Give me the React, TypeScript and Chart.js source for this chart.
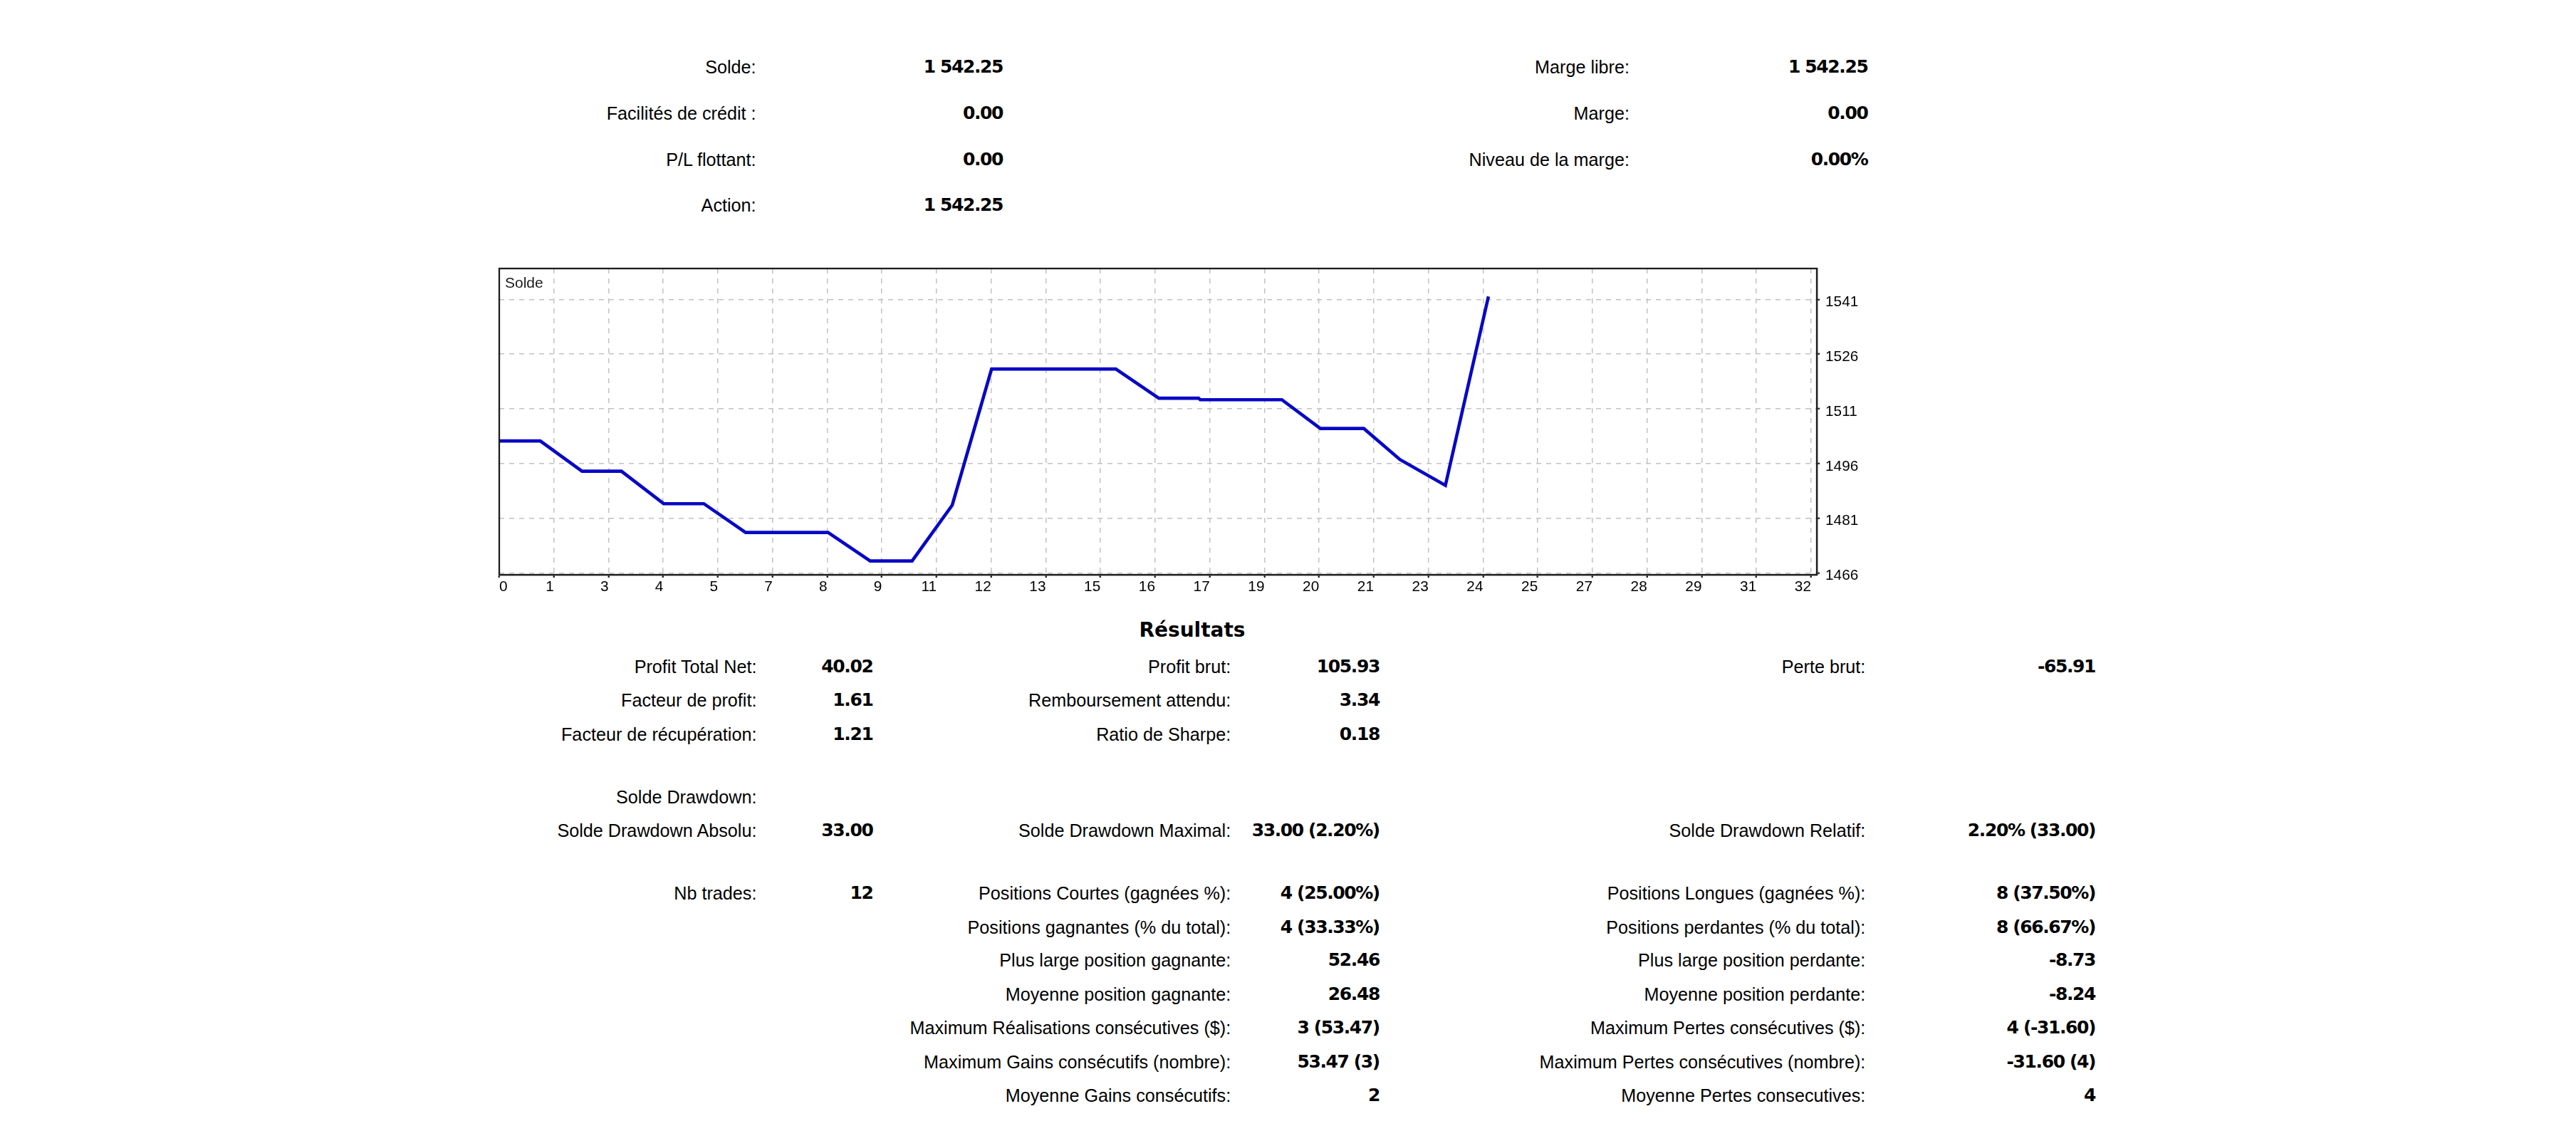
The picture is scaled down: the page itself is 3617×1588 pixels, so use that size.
import React, { useEffect, useRef } from "react";
import { Chart, registerables } from "chart.js";

Chart.register(...registerables);

// ---------- Chart data ----------
const balanceX = [0, 1.0, 2.02, 2.98, 4.01, 4.99, 6.01, 8.02, 9.05, 10.07, 11.05, 12.01, 15.04, 16.09, 17.06, 17.1, 19.09, 20.03, 21.09, 21.97, 23.08, 24.13];
const balanceY = [1502.2, 1502.2, 1493.9, 1493.9, 1485.0, 1485.0, 1477.1, 1477.1, 1469.3, 1469.3, 1484.6, 1521.9, 1521.9, 1513.9, 1513.9, 1513.5, 1513.5, 1505.6, 1505.6, 1497.1, 1490.0, 1541.8];
const xTickLabels = [0, 1, 3, 4, 5, 7, 8, 9, 11, 12, 13, 15, 16, 17, 19, 20, 21, 23, 24, 25, 27, 28, 29, 31, 32];
const yTickValues = [1466, 1481, 1496, 1511, 1526, 1541];
const chartLabel = "Solde";

// ---------- Account summary ----------
const accountLeftLabels = ["Solde:", "Facilités de crédit :", "P/L flottant:", "Action:"];
const accountLeftValues = ["1 542.25", "0.00", "0.00", "1 542.25"];
const accountRightLabels = ["Marge libre:", "Marge:", "Niveau de la marge:"];
const accountRightValues = ["1 542.25", "0.00", "0.00%"];

// ---------- Results ----------
const resultsTitle = "Résultats";
const col1Labels = ["Profit Total Net:", "Facteur de profit:", "Facteur de récupération:", "Solde Drawdown:", "Solde Drawdown Absolu:", "Nb trades:", "", "", "", "", "", ""];
const col1Values = ["40.02", "1.61", "1.21", "", "33.00", "12", "", "", "", "", "", ""];
const col2Labels = ["Profit brut:", "Remboursement attendu:", "Ratio de Sharpe:", "", "Solde Drawdown Maximal:", "Positions Courtes (gagnées %):", "Positions gagnantes (% du total):", "Plus large position gagnante:", "Moyenne position gagnante:", "Maximum Réalisations consécutives ($):", "Maximum Gains consécutifs (nombre):", "Moyenne Gains consécutifs:"];
const col2Values = ["105.93", "3.34", "0.18", "", "33.00 (2.20%)", "4 (25.00%)", "4 (33.33%)", "52.46", "26.48", "3 (53.47)", "53.47 (3)", "2"];
const col3Labels = ["Perte brut:", "", "", "", "Solde Drawdown Relatif:", "Positions Longues (gagnées %):", "Positions perdantes (% du total):", "Plus large position perdante:", "Moyenne position perdante:", "Maximum Pertes consécutives ($):", "Maximum Pertes consécutives (nombre):", "Moyenne Pertes consecutives:"];
const col3Values = ["-65.91", "", "", "", "2.20% (33.00)", "8 (37.50%)", "8 (66.67%)", "-8.73", "-8.24", "4 (-31.60)", "-31.60 (4)", "4"];

// ---------- Layout (positions only) ----------
const accountRowY = [94.3, 158.5, 224.0, 288.3];
const accountCols = { l1: 1061.6, v1: 1406.6, l2: 2288, v2: 2621 };
const resultRowY = [935.5, 982.5, 1030.8, 1077.5, 1165.8, 1254.2, 1301.7, 1348.3, 1395.8, 1442.5, 1490.8, 1538];
const solDrawdownHeaderY = 1118.5;
const resultCols = { l1: 1062.4, v1: 1224, l2: 1728.2, v2: 1935.5, l3: 2619.3, v3: 2940.6 };

const FONT_REG = "'Liberation Sans', Arial, sans-serif";
const FONT_BOLD = "'DejaVu Sans', Verdana, sans-serif";
const TICK_SIZE = 20.8;

function RText(props: { text: string; right: number; cy: number; bold?: boolean }) {
  const { text, right, cy, bold } = props;
  if (!text) return null;
  const lh = 32;
  return (
    <div
      style={{
        position: "absolute",
        left: right - 1200 + (bold ? 1.4 : 0),
        width: 1200,
        top: cy - lh / 2,
        height: lh,
        lineHeight: lh + "px",
        textAlign: "right",
        whiteSpace: "nowrap",
        fontFamily: bold ? FONT_BOLD : FONT_REG,
        fontWeight: bold ? 700 : 400,
        fontSize: bold ? 25 : 25.2,
        letterSpacing: bold ? "-1.4px" : "normal",
        color: "#000",
      }}
    >
      {text}
    </div>
  );
}

const framePlugin = {
  id: "frame",
  afterDatasetsDraw(chart: any) {
    const { ctx, chartArea: a } = chart;
    ctx.save();
    ctx.strokeStyle = "#1e1e1e";
    ctx.lineWidth = 2.3;
    ctx.setLineDash([]);
    ctx.strokeRect(a.left, a.top, a.right - a.left, a.bottom - a.top);
    ctx.restore();
  },
};

export default function App() {
  const canvasRef = useRef<HTMLCanvasElement | null>(null);

  useEffect(() => {
    const canvas = canvasRef.current;
    if (!canvas) return;
    const xStep = 32 / (xTickLabels.length - 1);
    const xTickValues = xTickLabels.map((_, i) => i * xStep);
    const tickFont = { family: FONT_REG, size: TICK_SIZE };
    const gridCommon = {
      color: "#c2c2c2",
      lineWidth: 1.5,
      drawTicks: true,
      tickLength: 4,
      tickColor: "#1e1e1e",
      tickWidth: 2.3,
    };
    const borderCommon = { display: true, color: "#1e1e1e", width: 2.3, dash: [7, 7] };

    const chart = new Chart(canvas, {
      type: "line",
      data: {
        datasets: [
          {
            label: chartLabel,
            data: balanceX.map((x, i) => ({ x, y: balanceY[i] })),
            borderColor: "rgb(8, 8, 196)",
            backgroundColor: "rgb(8, 8, 196)",
            borderWidth: 4.6,
            pointRadius: 0,
            tension: 0,
            fill: false,
          },
        ],
      },
      options: {
        animation: false,
        responsive: false,
        maintainAspectRatio: false,
        events: [],
        layout: { padding: { left: 11, top: 11, right: 0, bottom: 0 } },
        plugins: {
          legend: { display: false },
          tooltip: { enabled: false },
          title: { display: false },
        },
        scales: {
          // origin label of the time axis, drawn left-aligned inside the frame
          xStart: {
            type: "linear",
            position: "bottom",
            weight: -1,
            min: 0,
            max: 32.14,
            afterBuildTicks: (s: any) => {
              s.ticks = [{ value: xTickValues[0] }];
            },
            afterFit: (s: any) => {
              s.height = 0;
              s.paddingLeft = 0;
              s.paddingRight = 0;
            },
            ticks: {
              autoSkip: false,
              maxRotation: 0,
              minRotation: 0,
              align: "start",
              mirror: true,
              padding: -(5 + TICK_SIZE * 1.2),
              font: tickFont,
              color: "#000",
              callback: () => String(xTickLabels[0]),
            },
            grid: { display: false, drawTicks: false, drawOnChartArea: false },
            border: { display: false },
          },
          x: {
            type: "linear",
            position: "bottom",
            weight: 0,
            min: 0,
            max: 32.14,
            afterBuildTicks: (s: any) => {
              s.ticks = xTickValues.map((v) => ({ value: v }));
            },
            afterFit: (s: any) => {
              s.height = 40;
              s.paddingLeft = 0;
              s.paddingRight = 0;
            },
            ticks: {
              autoSkip: false,
              maxRotation: 0,
              minRotation: 0,
              align: "end",
              padding: 1,
              font: tickFont,
              color: "#000",
              callback: (_v: any, i: number) => (i === 0 ? "" : String(xTickLabels[i])),
            },
            grid: gridCommon,
            border: borderCommon,
          },
          y: {
            type: "linear",
            position: "right",
            min: 1465.52,
            max: 1549.45,
            afterBuildTicks: (s: any) => {
              s.ticks = yTickValues.map((v) => ({ value: v }));
            },
            afterFit: (s: any) => {
              s.width = 70;
              s.paddingTop = 0;
              s.paddingBottom = 0;
            },
            ticks: {
              padding: 8,
              labelOffset: 4,
              font: tickFont,
              color: "#000",
              callback: (v: any) => String(v),
            },
            grid: gridCommon,
            border: borderCommon,
          },
        },
      } as any,
      plugins: [framePlugin],
    });
    return () => chart.destroy();
  }, []);

  return (
    <div
      style={{
        position: "fixed",
        left: 0,
        top: 0,
        width: 3617,
        height: 1588,
        background: "#fff",
        overflow: "hidden",
      }}
    >
      {accountLeftLabels.map((t, i) => (
        <RText key={"al" + i} text={t} right={accountCols.l1} cy={accountRowY[i]} />
      ))}
      {accountLeftValues.map((t, i) => (
        <RText key={"av" + i} text={t} right={accountCols.v1} cy={accountRowY[i]} bold />
      ))}
      {accountRightLabels.map((t, i) => (
        <RText key={"rl" + i} text={t} right={accountCols.l2} cy={accountRowY[i]} />
      ))}
      {accountRightValues.map((t, i) => (
        <RText key={"rv" + i} text={t} right={accountCols.v2} cy={accountRowY[i]} bold />
      ))}

      <div style={{ position: "absolute", left: 690, top: 366, width: 1931, height: 481 }}>
        <canvas ref={canvasRef} width={1931} height={481} style={{ width: 1931, height: 481, display: "block" }} />
      </div>
      <div
        style={{
          position: "absolute",
          left: 709,
          top: 384.3,
          height: 26,
          lineHeight: "26px",
          fontFamily: FONT_REG,
          fontSize: 21,
          color: "#1a1a1a",
          whiteSpace: "nowrap",
        }}
      >
        {chartLabel}
      </div>

      <div
        style={{
          position: "absolute",
          left: 1674 - 300,
          width: 600,
          top: 885 - 18,
          height: 36,
          lineHeight: "36px",
          textAlign: "center",
          fontFamily: FONT_BOLD,
          fontWeight: 700,
          fontSize: 28,
          color: "#000",
        }}
      >
        {resultsTitle}
      </div>

      {col1Labels.map((t, i) => (
        <RText key={"c1l" + i} text={t} right={resultCols.l1} cy={i === 3 ? solDrawdownHeaderY : resultRowY[i]} />
      ))}
      {col1Values.map((t, i) => (
        <RText key={"c1v" + i} text={t} right={resultCols.v1} cy={resultRowY[i]} bold />
      ))}
      {col2Labels.map((t, i) => (
        <RText key={"c2l" + i} text={t} right={resultCols.l2} cy={resultRowY[i]} />
      ))}
      {col2Values.map((t, i) => (
        <RText key={"c2v" + i} text={t} right={resultCols.v2} cy={resultRowY[i]} bold />
      ))}
      {col3Labels.map((t, i) => (
        <RText key={"c3l" + i} text={t} right={resultCols.l3} cy={resultRowY[i]} />
      ))}
      {col3Values.map((t, i) => (
        <RText key={"c3v" + i} text={t} right={resultCols.v3} cy={resultRowY[i]} bold />
      ))}
    </div>
  );
}
